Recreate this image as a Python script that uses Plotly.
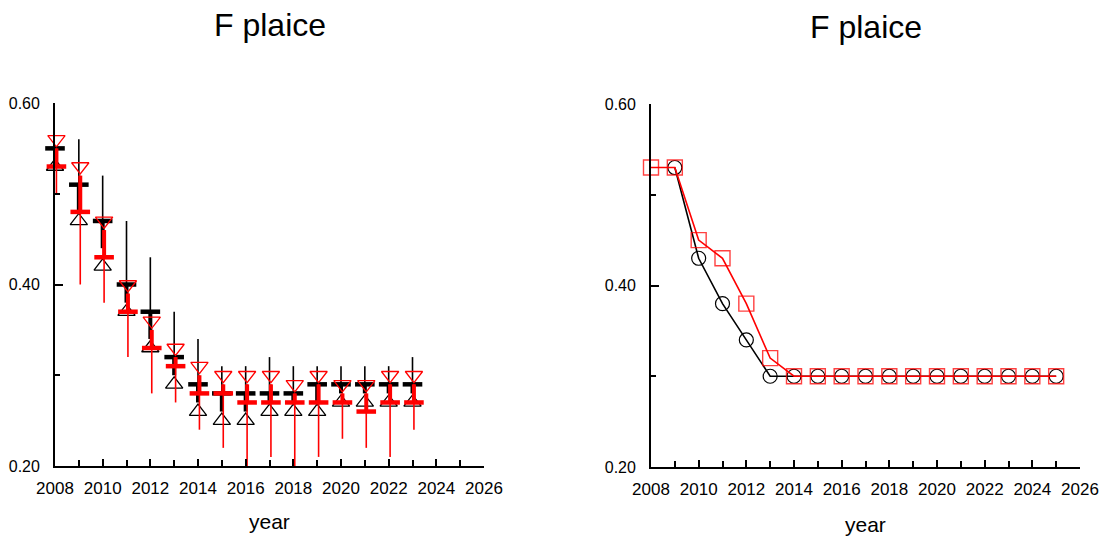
import plotly.graph_objects as go

# ---------------- data ----------------
years = list(range(2008, 2024))

black_bar      = [0.55, 0.51, 0.47, 0.40, 0.37, 0.32, 0.29, 0.28, 0.28, 0.28, 0.28, 0.29, 0.29, 0.29, 0.29, 0.29]
black_thin_hi  = [0.55, 0.56, 0.52, 0.47, 0.43, 0.37, 0.34, 0.31, 0.31, 0.32, 0.31, 0.31, 0.31, 0.31, 0.31, 0.32]
black_thick_lo = [0.53, 0.48, 0.44, 0.38, 0.34, 0.30, 0.27, 0.26, 0.26, 0.27, 0.27, 0.27, 0.28, 0.28, 0.28, 0.28]
black_tri      = [0.53, 0.47, 0.42, 0.37, 0.33, 0.29, 0.26, 0.25, 0.25, 0.26, 0.26, 0.26, 0.27, 0.27, 0.27, 0.27]

red_bar        = [0.53, 0.48, 0.43, 0.37, 0.33, 0.31, 0.28, 0.28, 0.27, 0.27, 0.27, 0.27, 0.27, 0.26, 0.27, 0.27]
red_thick_hi   = [0.55, 0.52, 0.46, 0.39, 0.35, 0.32, 0.30, 0.29, 0.29, 0.29, 0.28, 0.29, 0.28, 0.28, 0.29, 0.29]
red_thin_lo    = [0.50, 0.40, 0.38, 0.32, 0.28, 0.27, 0.24, 0.22, 0.20, 0.21, 0.20, 0.21, 0.23, 0.22, 0.21, 0.24]
red_tri        = [0.56, 0.53, 0.47, 0.40, 0.36, 0.33, 0.31, 0.30, 0.30, 0.30, 0.29, 0.30, 0.29, 0.29, 0.30, 0.30]

years_black_line = list(range(2009, 2026))
black_line = [0.53, 0.43, 0.38, 0.34, 0.30, 0.30, 0.30, 0.30, 0.30, 0.30, 0.30, 0.30, 0.30, 0.30, 0.30, 0.30, 0.30]
years_red_line = list(range(2008, 2026))
red_line = [0.53, 0.53, 0.45, 0.43, 0.38, 0.32, 0.30, 0.30, 0.30, 0.30, 0.30, 0.30, 0.30, 0.30, 0.30, 0.30, 0.30, 0.30]

title_text = "F plaice"
x_title = "year"

FONT = "Liberation Sans, Arial, sans-serif"
BOFF = 0.0
ROFF = 0.06


def segs(xs, lo, hi, off):
    sx, sy = [], []
    for x, a, b in zip(xs, lo, hi):
        sx += [x + off, x + off, None]
        sy += [a, b, None]
    return sx, sy


fig = go.Figure()

# ---- left panel ----
bx, by = segs(years, black_bar, black_thin_hi, BOFF)
fig.add_trace(go.Scatter(x=bx, y=by, mode="lines", line=dict(color="black", width=1.6),
                         xaxis="x", yaxis="y", showlegend=False, hoverinfo="skip", cliponaxis=False))
bx, by = segs(years, black_thick_lo, black_bar, BOFF)
fig.add_trace(go.Scatter(x=bx, y=by, mode="lines", line=dict(color="black", width=4),
                         xaxis="x", yaxis="y", showlegend=False, hoverinfo="skip", cliponaxis=False))
fig.add_trace(go.Scatter(x=[y + BOFF for y in years], y=black_bar, mode="markers",
                         marker=dict(symbol="line-ew", size=14, line=dict(color="black", width=4.5)),
                         xaxis="x", yaxis="y", showlegend=False, cliponaxis=False))
fig.add_trace(go.Scatter(x=[y + BOFF for y in years], y=black_tri, mode="markers",
                         marker=dict(symbol="triangle-up-open", size=15, color="black", line=dict(width=1.3)),
                         xaxis="x", yaxis="y", showlegend=False, cliponaxis=False))

rx, ry = segs(years, red_thin_lo, red_thick_hi, ROFF)
fig.add_trace(go.Scatter(x=rx, y=ry, mode="lines", line=dict(color="red", width=1.6),
                         xaxis="x", yaxis="y", showlegend=False, hoverinfo="skip"))
rx, ry = segs(years, red_bar, red_thick_hi, ROFF)
fig.add_trace(go.Scatter(x=rx, y=ry, mode="lines", line=dict(color="red", width=4),
                         xaxis="x", yaxis="y", showlegend=False, hoverinfo="skip"))
fig.add_trace(go.Scatter(x=[y + ROFF for y in years], y=red_bar, mode="markers",
                         marker=dict(symbol="line-ew", size=14, line=dict(color="red", width=4.5)),
                         xaxis="x", yaxis="y", showlegend=False, cliponaxis=False))
fig.add_trace(go.Scatter(x=[y + ROFF for y in years], y=red_tri, mode="markers",
                         marker=dict(symbol="triangle-down-open", size=15, color="red", line=dict(width=1.3)),
                         xaxis="x", yaxis="y", showlegend=False, cliponaxis=False))

# ---- right panel ----
fig.add_trace(go.Scatter(x=years_black_line, y=black_line, mode="lines+markers",
                         line=dict(color="black", width=1.6),
                         marker=dict(symbol="circle-open", size=14, color="black", line=dict(width=1.2)),
                         xaxis="x2", yaxis="y2", showlegend=False, cliponaxis=False))
fig.add_trace(go.Scatter(x=years_red_line, y=red_line, mode="lines+markers",
                         line=dict(color="red", width=1.6),
                         marker=dict(symbol="square-open", size=15, color="rgba(255,0,0,0.75)", line=dict(width=1.4)),
                         xaxis="x2", yaxis="y2", showlegend=False, cliponaxis=False))

W, H = 1105, 538


def xaxis(l, r, anchor):
    return dict(domain=[l / W, r / W], range=[2008, 2026], anchor=anchor, automargin=False,
                dtick=2, tick0=2008, ticks="inside", ticklen=7, tickwidth=1.5, tickcolor="black",
                minor=dict(dtick=1, tick0=2008, ticks="inside", ticklen=6, tickwidth=1.5, tickcolor="black"),
                showline=True, linecolor="black", linewidth=1.8, showgrid=False, zeroline=False,
                tickfont=dict(family=FONT, size=17, color="black"), ticklabelstandoff=6)


def yaxis(b, t, anchor):
    return dict(domain=[(H - b) / H, (H - t) / H], range=[0.2, 0.6], anchor=anchor, automargin=False,
                dtick=0.2, tick0=0.2, tickformat=".2f", ticks="inside", ticklen=8, tickwidth=1.5,
                tickcolor="black",
                minor=dict(dtick=0.1, tick0=0.2, ticks="inside", ticklen=5, tickwidth=1.5, tickcolor="black"),
                showline=True, linecolor="black", linewidth=1.8, showgrid=False, zeroline=False,
                tickfont=dict(family=FONT, size=16, color="black"), ticklabelstandoff=10)


fig.update_layout(
    width=W, height=H, margin=dict(l=0, r=0, t=0, b=0, autoexpand=False),
    paper_bgcolor="white", plot_bgcolor="white",
    xaxis=xaxis(55, 484, "y"), yaxis=yaxis(466, 103, "x"),
    xaxis2=xaxis(651, 1080, "y2"), yaxis2=yaxis(467, 104, "x2"),
    annotations=[
        dict(text=title_text, x=269.5 / W, y=1 - 25 / H, xref="paper", yref="paper",
             showarrow=False, xanchor="center", yanchor="middle",
             font=dict(family=FONT, size=32, color="black")),
        dict(text=title_text, x=865.5 / W, y=1 - 27 / H, xref="paper", yref="paper",
             showarrow=False, xanchor="center", yanchor="middle",
             font=dict(family=FONT, size=32, color="black")),
        dict(text=x_title, x=269.5 / W, y=1 - 521 / H, xref="paper", yref="paper",
             showarrow=False, xanchor="center", yanchor="middle",
             font=dict(family=FONT, size=21, color="black")),
        dict(text=x_title, x=865.5 / W, y=1 - 524 / H, xref="paper", yref="paper",
             showarrow=False, xanchor="center", yanchor="middle",
             font=dict(family=FONT, size=21, color="black")),
    ],
)

fig.write_html("out.html")
